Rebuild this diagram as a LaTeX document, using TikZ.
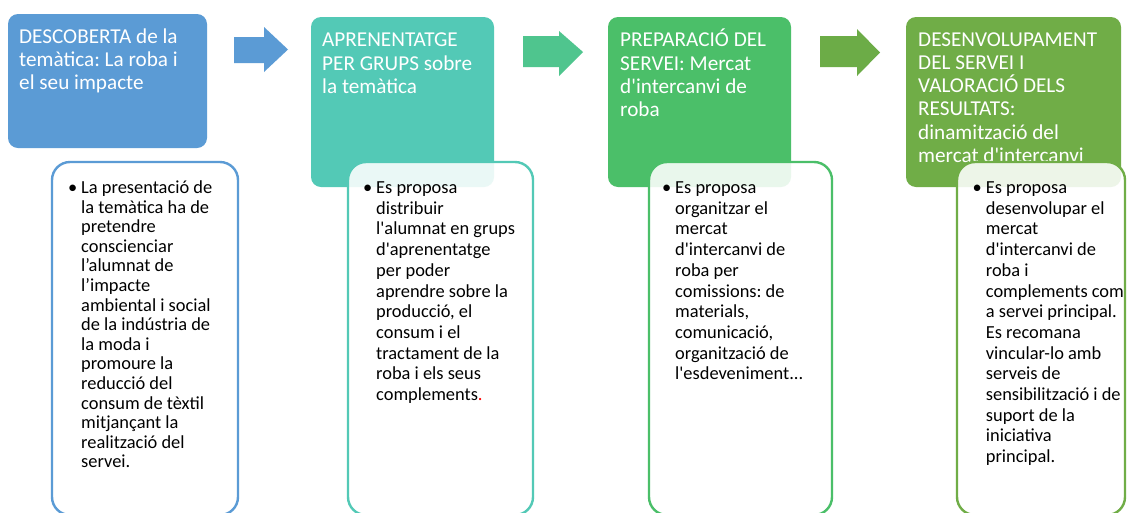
\documentclass[tikz,border=0pt]{standalone}
\usepackage{fontspec}
\setmainfont{Carlito}[Ligatures=TeXOff]
\frenchspacing
\definecolor{cBlue}{HTML}{5B9BD5}
\definecolor{cTeal}{HTML}{53C9B6}
\definecolor{cGreen}{HTML}{4BBF69}
\definecolor{cOlive}{HTML}{70AD47}
\definecolor{aTeal}{HTML}{4FC58E}
\definecolor{aOlive}{HTML}{6CAC47}
\newcommand{\bul}{\leavevmode\llap{•\hspace{4pt}}}
\begin{document}
\begin{tikzpicture}[x=1pt,y=-1pt,
  titlebox/.style={draw=none, fill=#1, rounded corners=10pt},
  bodybox/.style={draw=#1, line width=2.4pt, fill=white, fill opacity=0.88, rounded corners=18pt},
  titletext/.style={anchor=base west, inner sep=0pt, text=white, font=\fontsize{21.2}{23.3}\selectfont\frenchspacing},
  bodytext/.style={anchor=base west, inner sep=0pt, text=black, font=\fontsize{18.4}{#1}\selectfont\frenchspacing},
  bodytext/.default=20.7,
  blockarrow/.style={fill=#1, draw=none}]
\clip (0,0) rectangle (1129,512);
\fill[white] (0,0) rectangle (1129,512);
% title boxes
\path[titlebox=cBlue] (8,14) rectangle (207,148);
\node[inner sep=0pt, minimum width=199pt, minimum height=134pt] (t1) at (107.5,81) {};
\path[titlebox=cTeal] (311,17) rectangle (494,187);
\node[inner sep=0pt, minimum width=183pt, minimum height=170pt] (t2) at (402.5,102) {};
\path[titlebox=cGreen] (608,17) rectangle (791,187);
\node[inner sep=0pt, minimum width=183pt, minimum height=170pt] (t3) at (699.5,102) {};
\path[titlebox=cOlive] (906,17) rectangle (1121,187);
\node[inner sep=0pt, minimum width=215pt, minimum height=170pt] (t4) at (1013.5,102) {};
% title texts
\node[titletext] (tt1) at (19,43) {\parbox[t]{185pt}{\raggedright DESCOBERTA de la\\temàtica: La roba i\\el seu impacte}};
\node[titletext] (tt2) at (322,46.7) {\parbox[t]{170pt}{\raggedright APRENENTATGE\\PER GRUPS sobre\\la temàtica}};
\node[titletext] (tt3) at (620,46.7) {\parbox[t]{170pt}{\raggedright PREPARACIÓ DEL\\SERVEI: Mercat\\d'intercanvi de\\roba}};
\node[titletext] (tt4) at (918,46) {\parbox[t]{200pt}{\raggedright DESENVOLUPAMENT\\DEL SERVEI I\\VALORACIÓ DELS\\RESULTATS:\\dinamització del\\mercat d'intercanvi}};
% arrows
\fill[blockarrow=cBlue] (234,37) -- (264,37) -- (264,27) -- (288,49.5) -- (264,72) -- (264,63) -- (234,63) -- cycle;
\fill[blockarrow=aTeal] (523,36) -- (559,36) -- (559,31) -- (583,52) -- (559,76) -- (559,67) -- (523,67) -- cycle;
\fill[blockarrow=aOlive] (820,36) -- (857,36) -- (857,29) -- (880,52.5) -- (857,76) -- (857,67) -- (820,67) -- cycle;
% body boxes
\path[bodybox=cBlue] (52,162) rectangle (238,515);
\node[inner sep=0pt, minimum width=186pt, minimum height=353pt] (b1) at (145,338.5) {};
\path[bodybox=cTeal] (348,162) rectangle (533,515);
\node[inner sep=0pt, minimum width=185pt, minimum height=353pt] (b2) at (440.5,338.5) {};
\path[bodybox=cGreen] (649,162) rectangle (832,515);
\node[inner sep=0pt, minimum width=183pt, minimum height=353pt] (b3) at (740.5,338.5) {};
\path[bodybox=cOlive] (957,162) rectangle (1125,515);
\node[inner sep=0pt, minimum width=168pt, minimum height=353pt] (b4) at (1041,338.5) {};
% body texts
\node[bodytext=19.6] (bt1) at (81,193.5) {\parbox[t]{150pt}{\raggedright\bul La presentació de\\la temàtica ha de\\pretendre\\conscienciar\\l’alumnat de\\l’impacte\\ambiental i social\\de la indústria de\\la moda i\\promoure la\\reducció del\\consum de tèxtil\\mitjançant la\\realització del\\servei.}};
\node[bodytext] (bt2) at (376,193.5) {\parbox[t]{150pt}{\raggedright\bul Es proposa\\distribuir\\l'alumnat en grups\\d'aprenentatge\\per poder\\aprendre sobre la\\producció, el\\consum i el\\tractament de la\\roba i els seus\\complements\textcolor{red}{.}}};
\node[bodytext] (bt3) at (675,193.5) {\parbox[t]{150pt}{\raggedright\bul Es proposa\\organitzar el\\mercat\\d'intercanvi de\\roba per\\comissions: de\\materials,\\comunicació,\\organització de\\l'esdeveniment...}};
\node[bodytext] (bt4) at (985.7,193.5) {\parbox[t]{150pt}{\raggedright\bul Es proposa\\desenvolupar el\\mercat\\d'intercanvi de\\roba i\\complements com\\a servei principal.\\Es recomana\\vincular-lo amb\\serveis de\\sensibilització i de\\suport de la\\iniciativa\\principal.}};
\end{tikzpicture}
\end{document}
